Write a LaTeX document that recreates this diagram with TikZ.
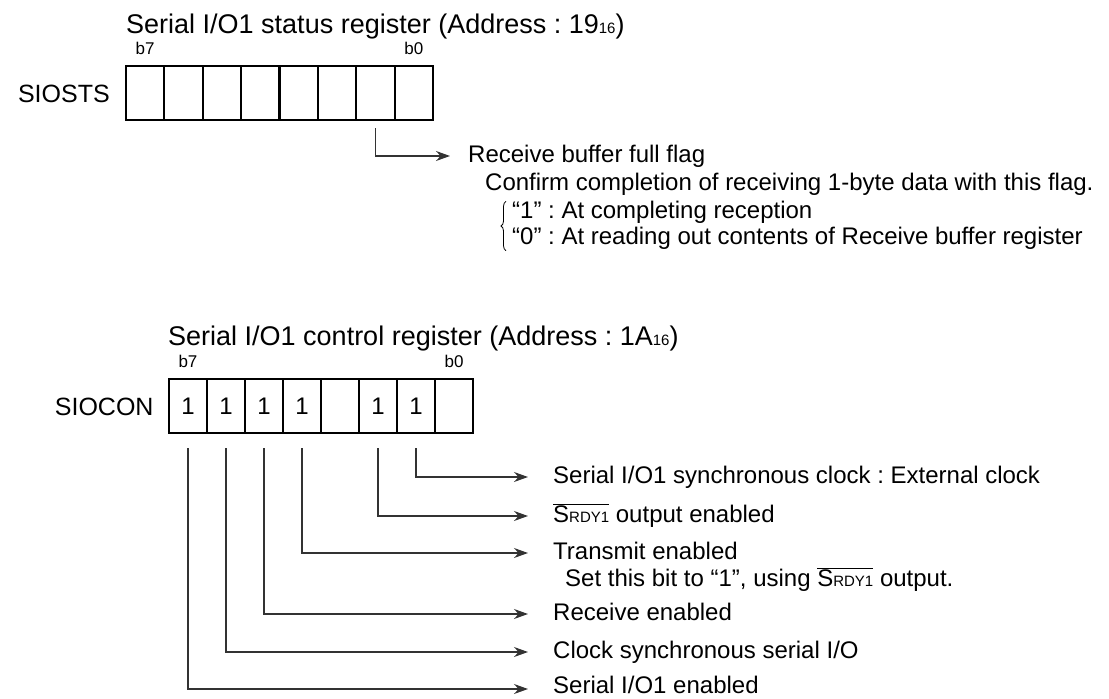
\documentclass[tikz,border=0pt]{standalone}
\usepackage{fontspec}
\setmainfont{Liberation Sans}
\usetikzlibrary{arrows.meta,positioning,decorations.pathreplacing}
\frenchspacing
\newcommand\subsz[1]{{\fontsize{15}{15}\selectfont #1}}
\newcommand\srdy{$\overline{\hbox{S\fontsize{15}{15}\selectfont RDY1}}$}
\tikzset{
  cell/.style={draw,line width=2.2pt,minimum width=38.4pt,minimum height=54pt,
    inner sep=0pt,font=\fontsize{24}{24}\selectfont},
  title/.style={anchor=base west,inner sep=0pt,font=\fontsize{27}{27}\selectfont},
  bitno/.style={anchor=base,inner sep=0pt,font=\fontsize{17}{17}\selectfont},
  regname/.style={inner sep=0pt,text height=18pt,text depth=0pt,
    font=\fontsize{25}{25}\selectfont},
  desc/.style={anchor=west,inner sep=0pt,text height=17pt,text depth=0pt,
    font=\fontsize{24}{24}\selectfont},
  conn/.style={line width=1.2pt,black!80,-{Stealth[length=14pt,width=10pt]}},
}

\begin{document}
\begin{tikzpicture}[x=1pt,y=-1pt]
    \useasboundingbox (0,0) rectangle (1109,699);

    % status register
    \node[title] (ststitle) at (126,33) {Serial I/O1 status register (Address : 19\subsz{16})};
    \foreach \b [evaluate=\b as \x using 126+38.375*(7.5-\b)] in {7,6,...,0}
        \node[cell] (sts\b) at (\x,93) {};
    \node[bitno] (stsb7) at ([yshift=10pt]sts7.north) {b7};
    \node[bitno] (stsb0) at ([yshift=10pt]sts0.north) {b0};
    \node[regname,left=15pt of sts7] (siosts) {SIOSTS};

    \node[desc] (rbf) at (468,154) {Receive buffer full flag};
    \node[desc] (conf) at (485,182) {Confirm completion of receiving 1-byte data with this flag.};
    \node[desc] (one) at (512,210) {“1” : At completing reception};
    \node[desc] (zero) at (512,236) {“0” : At reading out contents of Receive buffer register};
    \draw[conn] ([yshift=-7pt]sts1.south) |- ([xshift=-18pt,yshift=-2pt]rbf.west);
    \draw[line width=0.8pt,decorate,decoration={brace,amplitude=5pt}]
        ([xshift=-6pt,yshift=-6pt]zero.south west) -- ([xshift=-6pt]one.north west);

    % control register
    \node[title] (contitle) at (168,345) {Serial I/O1 control register (Address : 1A\subsz{16})};
    \foreach \b/\v [evaluate=\b as \x using 169+38*(7.5-\b)] in {7/1,6/1,5/1,4/1,3/{},2/1,1/1,0/{}}
        \node[cell] (con\b) at (\x,406) {\v};
    \node[bitno] (conb7) at ([yshift=10pt]con7.north) {b7};
    \node[bitno] (conb0) at ([yshift=10pt]con0.north) {b0};
    \node[regname,left=14pt of con7] (siocon) {SIOCON};

    \node[desc] (t1) at (553,475) {Serial I/O1 synchronous clock : External clock};
    \node[desc] (t2) at (553,514) {\srdy{} output enabled};
    \node[desc] (t4) at (553,551) {Transmit enabled};
    \node[desc] (t4b) at (565,578) {Set this bit to “1”, using \srdy{} output.};
    \node[desc] (t5) at (553,612) {Receive enabled};
    \node[desc] (t6) at (553,650) {Clock synchronous serial I/O};
    \node[desc] (t7) at (553,685) {Serial I/O1 enabled};

    \draw[conn] ([yshift=-14pt]con1.south) |- ([xshift=-25pt,yshift=-2pt]t1.west);
    \draw[conn] ([yshift=-14pt]con2.south) |- ([xshift=-25pt,yshift=-2pt]t2.west);
    \draw[conn] ([yshift=-14pt]con4.south) |- ([xshift=-25pt,yshift=-2pt]t4.west);
    \draw[conn] ([yshift=-14pt]con5.south) |- ([xshift=-25pt,yshift=-2pt]t5.west);
    \draw[conn] ([yshift=-14pt]con6.south) |- ([xshift=-25pt,yshift=-2pt]t6.west);
    \draw[conn] ([yshift=-14pt]con7.south) |- ([xshift=-25pt,yshift=-4pt]t7.west);
\end{tikzpicture}
\end{document}
